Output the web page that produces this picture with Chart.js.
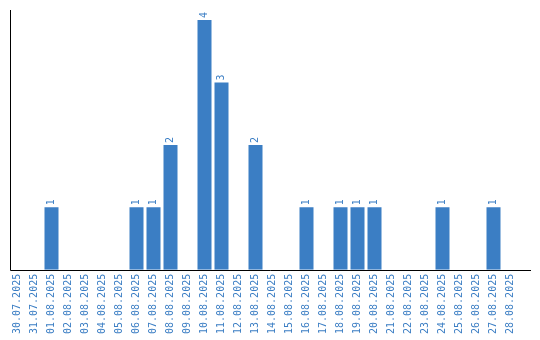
<!DOCTYPE html>
<html><head><meta charset="utf-8">
<script src="https://cdn.jsdelivr.net/npm/chart.js@4"></script>
<style>html,body{margin:0;padding:0;background:#fff}#wrap{width:540px;height:340px}</style>
</head><body><div id="wrap"><canvas id="c"></canvas></div>
<script>
const categories = ["30.07.2025","31.07.2025","01.08.2025","02.08.2025","03.08.2025","04.08.2025","05.08.2025","06.08.2025","07.08.2025","08.08.2025","09.08.2025","10.08.2025","11.08.2025","12.08.2025","13.08.2025","14.08.2025","15.08.2025","16.08.2025","17.08.2025","18.08.2025","19.08.2025","20.08.2025","21.08.2025","22.08.2025","23.08.2025","24.08.2025","25.08.2025","26.08.2025","27.08.2025","28.08.2025"];
const counts = [0,0,1,0,0,0,0,1,1,2,0,4,3,0,2,0,0,1,0,1,1,1,0,0,0,1,0,0,1,0];
const BLUE = '#3b7ec4';
const FONT = '"DejaVu Sans Mono", "Liberation Mono", monospace';

const extras = {
  id: 'extras',
  afterDatasetsDraw(chart) {
    const ctx = chart.ctx;
    const meta = chart.getDatasetMeta(0);
    ctx.save();
    ctx.fillStyle = BLUE;
    ctx.font = '10px ' + FONT;
    ctx.textAlign = 'left';
    ctx.textBaseline = 'middle';
    meta.data.forEach((bar, i) => {
      const v = counts[i];
      if (!v) return;
      ctx.save();
      ctx.translate(bar.x, bar.y - 2);
      ctx.rotate(-Math.PI / 2);
      ctx.fillText(String(v), 0, 0);
      ctx.restore();
    });
    ctx.restore();
  },
  afterDraw(chart) {
    const ctx = chart.ctx, a = chart.chartArea;
    ctx.save();
    ctx.strokeStyle = '#000';
    ctx.lineWidth = 1;
    ctx.beginPath();
    ctx.moveTo(10.5, 10);
    ctx.lineTo(10.5, Math.round(a.bottom) + 0.5);
    ctx.lineTo(531, Math.round(a.bottom) + 0.5);
    ctx.stroke();
    ctx.restore();
  }
};

new Chart(document.getElementById('c'), {
  type: 'bar',
  data: {
    labels: categories,
    datasets: [{ data: counts, backgroundColor: BLUE, borderWidth: 0,
      barPercentage: 14/17, categoryPercentage: 1 }]
  },
  options: {
    responsive: true, maintainAspectRatio: false, animation: false,
    layout: { padding: { left: 9, right: 21, top: 10, bottom: 2 } },
    plugins: { legend: { display: false }, tooltip: { enabled: false } },
    scales: {
      x: {
        grid: { display: false, drawTicks: false }, border: { display: false },
        ticks: { color: BLUE, font: { family: FONT, size: 10 }, minRotation: 90, maxRotation: 90, autoSkip: false, padding: 4 }
      },
      y: { display: false, min: 0, max: 4.16 }
    }
  },
  plugins: [extras]
});
</script></body></html>
